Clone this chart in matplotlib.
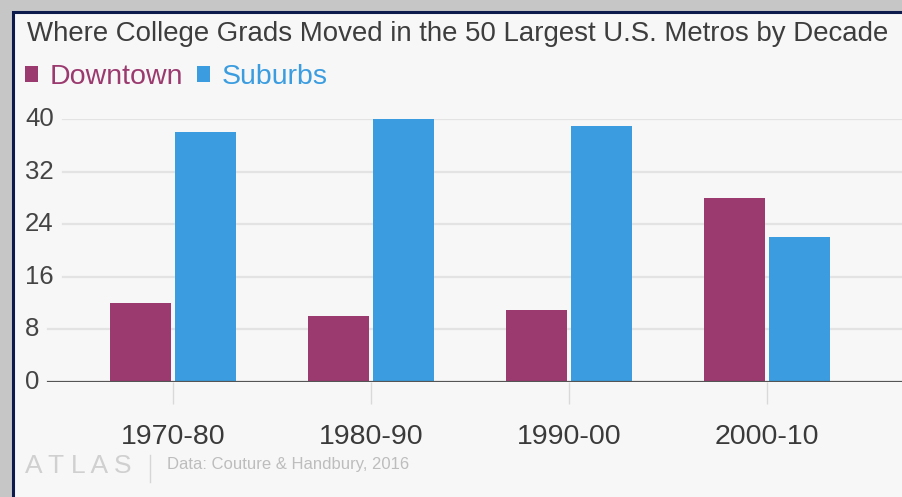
import matplotlib
matplotlib.use("Agg")
import matplotlib.pyplot as plt
from matplotlib.patches import Rectangle
import numpy as np

plt.rcParams['font.family'] = ['Liberation Sans', 'DejaVu Sans']

decades = ['1970-80', '1980-90', '1990-00', '2000-10']
downtown = [12, 10, 11, 28]
suburbs = [38, 40, 39, 22]
yticks = [0, 8, 16, 24, 32, 40]

c_down = '#9b3a6f'
c_sub = '#3b9de0'
bg = '#f7f7f7'

W, H = 902, 497
fig = plt.figure(figsize=(W / 100, H / 100), dpi=100, facecolor='#c6c6c6')

# light panel with the dark blue frame on top and left
fig.patches.append(Rectangle((12.5 / W, -0.05), 1.2, (H - 11.5) / H + 0.05,
                             transform=fig.transFigure, facecolor=bg,
                             edgecolor='#0c1a4c', lw=2.2, zorder=-5))

x0, y0, y1 = 25, 382, 119
ax = fig.add_axes([x0 / W, (H - y0) / H, (W - x0) / W, (y0 - y1) / H])
ax.set_facecolor('none')
for s in ax.spines.values():
    s.set_visible(False)

x = np.arange(len(decades))
bw, off = 0.31, 0.163
ax.bar(x - off, downtown, bw, color=c_down, label='Downtown', zorder=3, clip_on=False)
ax.bar(x + off, suburbs, bw, color=c_sub, label='Suburbs', zorder=3, clip_on=False)

ax.set_xlim(-(173 - x0) / 198, (W - 173) / 198)
ax.set_ylim(0, 40)

# gridlines start just right of the left-aligned value labels
span = W - x0
for v in yticks:
    lab = str(v)
    start = (23 if len(lab) == 1 else 38) / span
    if v == 0:
        ax.axhline(v, xmin=start, color='#555555', lw=1.6, zorder=4)
    else:
        ax.axhline(v, xmin=start, color='#e3e3e3', lw=1.6, zorder=1)
    ax.text(0, v, lab, transform=ax.get_yaxis_transform(), ha='left', va='center',
            fontsize=18.5, color='#444444')
ax.set_yticks([])

ax.set_xticks(x)
ax.set_xticklabels(decades, fontsize=20.5, color='#3a3a3a')
ax.tick_params(axis='x', length=16, width=1, color='#d9d9d9', pad=14)

fig.text(27 / W, 1 - 34 / H, 'Where College Grads Moved in the 50 Largest U.S. Metros by Decade',
         fontsize=19.9, color='#3d3d3d', ha='left', va='center')

leg = ax.legend(loc='center left', bbox_to_anchor=(25 / W, 1 - 77 / H),
                bbox_transform=fig.transFigure, ncol=2, frameon=False,
                fontsize=20.5, handlelength=0.46, handleheight=0.46,
                handletextpad=0.42, columnspacing=0.46,
                labelcolor=[c_down, c_sub], borderaxespad=0, borderpad=0)

fig.text(25 / W, 1 - 466 / H, 'A T L A S', fontsize=19, color='#d0d0d0',
         ha='left', va='center')
fig.add_artist(plt.Line2D([150 / W, 150 / W], [1 - 455 / H, 1 - 482 / H],
                          transform=fig.transFigure, color='#d6d6d6', lw=1))
fig.text(167 / W, 1 - 464 / H, 'Data: Couture & Handbury, 2016', fontsize=12,
         color='#bdbdbd', ha='left', va='center')

fig.savefig('out.png', dpi=100, facecolor=fig.get_facecolor())
